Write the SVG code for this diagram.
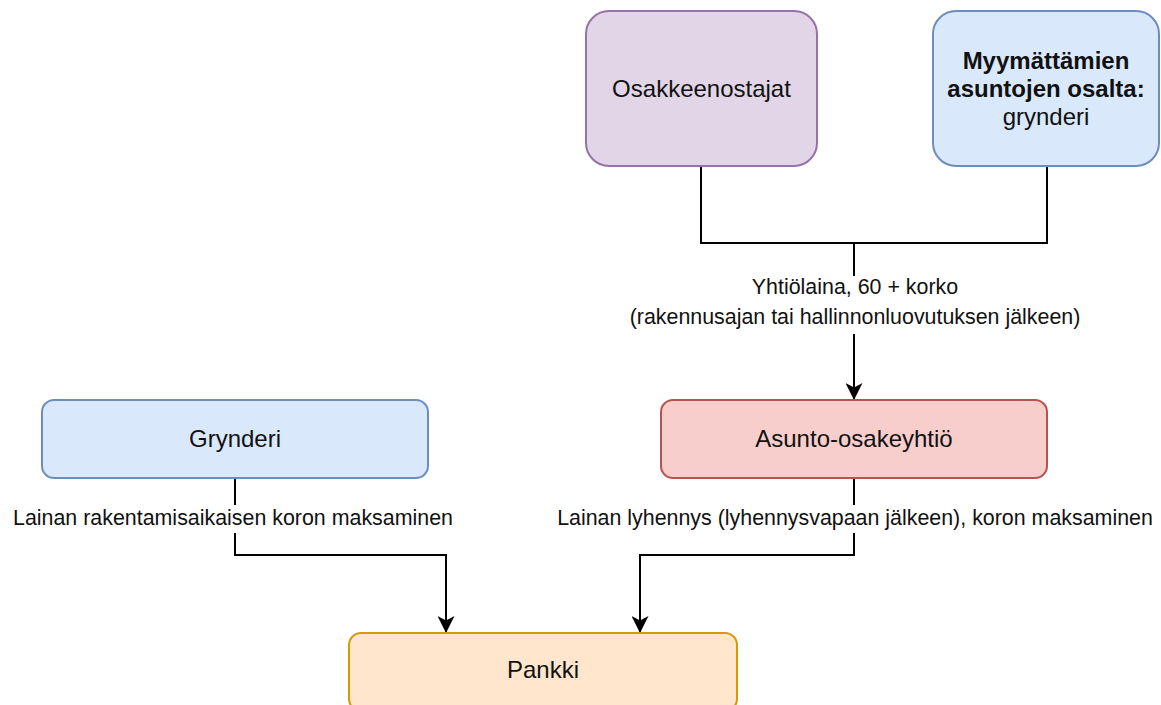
<svg xmlns="http://www.w3.org/2000/svg" width="1161" height="705" viewBox="0 0 1161 705">
<style>
  .node text { font-family: "Liberation Sans", Arial, sans-serif; font-size: 24px; fill: #111; text-anchor: middle; }
  .lbl { font-family: "Liberation Sans", Arial, sans-serif; font-size: 21.4px; fill: #111; text-anchor: middle; }
  .box { stroke-width: 2; }
  .purple { fill: #e1d5e7; stroke: #9673a6; }
  .blue { fill: #dae8fc; stroke: #6c8ebf; }
  .red { fill: #f8cecc; stroke: #b85450; }
  .orange { fill: #ffe6cc; stroke: #d79b00; }
  .edge { fill: none; stroke: #000; stroke-width: 2; }
  .lblbg { fill: #fff; }
</style>
<defs>
  <marker id="arrow" viewBox="0 0 17 17" refX="17" refY="8.5" markerWidth="17" markerHeight="17" markerUnits="userSpaceOnUse" orient="auto">
    <path d="M0,0 L17,8.5 L0,17 L4.5,8.5 Z" fill="#000"/>
  </marker>
</defs>
<rect width="1161" height="705" fill="#fff"/>

<g id="connectors">
  <path class="edge" d="M701,166 V243 H1047 V166"/>
  <path class="edge" d="M854,243 V400" marker-end="url(#arrow)"/>
  <path class="edge" d="M235,478 V555 H446 V633" marker-end="url(#arrow)"/>
  <path class="edge" d="M854,478 V555 H640 V633" marker-end="url(#arrow)"/>
  <g id="label-yhtiolaina">
    <rect class="lblbg" x="630" y="276" width="450" height="58"/>
    <text class="lbl" x="855" y="294">Yhtiölaina, 60 + korko</text>
    <text class="lbl" x="855" y="324">(rakennusajan tai hallinnonluovutuksen jälkeen)</text>
  </g>
  <g id="label-grynderi">
    <rect class="lblbg" x="8" y="505" width="452" height="28"/>
    <text class="lbl" x="233" y="525">Lainan rakentamisaikaisen koron maksaminen</text>
  </g>
  <g id="label-asunto">
    <rect class="lblbg" x="552" y="505" width="606" height="28"/>
    <text class="lbl" x="855" y="525">Lainan lyhennys (lyhennysvapaan jälkeen), koron maksaminen</text>
  </g>
</g>

<g id="osakkeenostajat" class="node">
  <rect class="box purple" x="586" y="11" width="231" height="155" rx="23" ry="23"/>
  <text x="701.5" y="97">Osakkeenostajat</text>
</g>

<g id="myymattamien" class="node">
  <rect class="box blue" x="933" y="11" width="226" height="155" rx="23" ry="23"/>
  <text x="1046" y="69" font-weight="bold">Myymättämien</text>
  <text x="1046" y="97" font-weight="bold">asuntojen osalta:</text>
  <text x="1046" y="125">grynderi</text>
</g>

<g id="grynderi" class="node">
  <rect class="box blue" x="42" y="400" width="386" height="78" rx="12" ry="12"/>
  <text x="235" y="447">Grynderi</text>
</g>

<g id="asunto-osakeyhtio" class="node">
  <rect class="box red" x="661" y="400" width="386" height="78" rx="12" ry="12"/>
  <text x="854" y="447">Asunto-osakeyhtiö</text>
</g>

<g id="pankki" class="node">
  <rect class="box orange" x="349" y="633" width="388" height="78" rx="12" ry="12"/>
  <text x="543" y="678">Pankki</text>
</g>
</svg>
